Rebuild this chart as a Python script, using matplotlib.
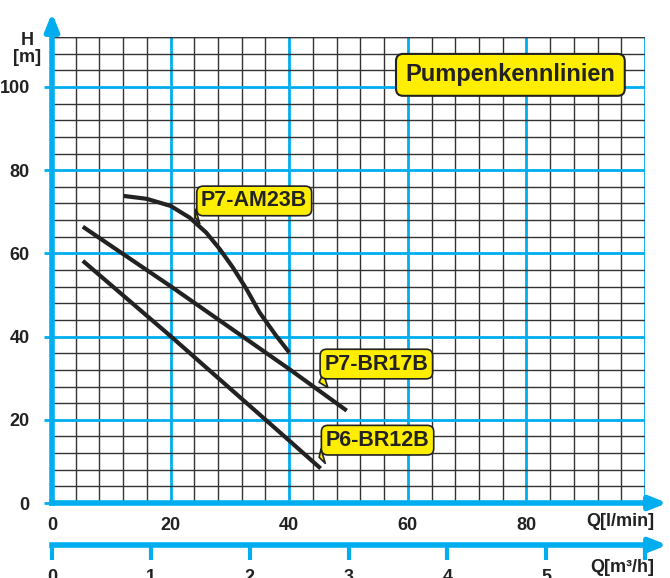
import matplotlib.pyplot as plt
from matplotlib.ticker import MultipleLocator

BLUE = '#00aeef'
YELLOW = '#ffee00'
INK = '#222222'

# pump curves (Q in l/min, H in m)
am23_q = [12.1, 16.0, 20.0, 23.2, 26.0, 28.3, 30.5, 32.8, 35.0, 37.8, 40.0]
am23_h = [73.8, 73.1, 71.4, 68.6, 65.0, 61.0, 56.6, 51.4, 45.8, 40.2, 36.2]
br17_q = [5.2, 20.0, 40.0, 49.7]
br17_h = [66.4, 52.1, 32.2, 22.2]
br12_q = [5.2, 20.0, 40.0, 45.3]
br12_h = [58.2, 40.1, 15.0, 8.3]

q_ticks = [0, 20, 40, 60, 80]
h_ticks = [0, 20, 40, 60, 80, 100]
m3h_ticks = [0, 1, 2, 3, 4, 5, 6]
m3h_labels = ['0', '1', '2', '3', '4', '5', '']

plt.rcParams['font.family'] = ['Liberation Sans', 'DejaVu Sans']
plt.rcParams['font.weight'] = 'bold'

W, H = 670, 578
fig = plt.figure(figsize=(W / 100, H / 100), dpi=100)
x0, x1, y0, y1 = 52, 645, 503, 37
ax = fig.add_axes([x0 / W, 1 - y0 / H, (x1 - x0) / W, (y0 - y1) / H])
ax.set_xlim(0, 100)
ax.set_ylim(0, 112)

# grid: black every 4, blue every 20
ax.xaxis.set_major_locator(MultipleLocator(20))
ax.yaxis.set_major_locator(MultipleLocator(20))
ax.xaxis.set_minor_locator(MultipleLocator(4))
ax.yaxis.set_minor_locator(MultipleLocator(4))
ax.grid(which='minor', color='#333333', lw=1.0)
ax.grid(which='major', color=BLUE, lw=2.0)
ax.set_axisbelow(True)
for s in ['top', 'right']:
    ax.spines[s].set_visible(False)
for s in ['left', 'bottom']:
    ax.spines[s].set_color(BLUE)
    ax.spines[s].set_linewidth(4)
ax.axhline(112, color='#333333', lw=1.0)
ax.tick_params(which='minor', length=0)
ax.tick_params(which='major', colors=BLUE, length=6, width=2)
ax.tick_params(axis='x', length=0)
ax.set_yticks(h_ticks)
ax.set_yticklabels([str(v) for v in h_ticks], color=INK, fontsize=13, fontweight='bold')
ax.set_xticks(q_ticks + [100])
ax.set_xticklabels([str(v) for v in q_ticks] + [''], color=INK, fontsize=13, fontweight='bold')
ax.tick_params(axis='x', pad=10)
ax.tick_params(axis='y', pad=10)

# axis arrows
head = '-|>,head_length=1.0,head_width=0.4'
ax.annotate('', xy=(670 / W, 1 - y0 / H), xycoords='figure fraction',
            xytext=(100, 0), textcoords='data',
            arrowprops=dict(arrowstyle=head, color=BLUE, lw=4))
ax.annotate('', xy=(x0 / W, 1 - 10 / H), xycoords='figure fraction',
            xytext=(0, 112), textcoords='data',
            arrowprops=dict(arrowstyle=head, color=BLUE, lw=4))

# curves
for q, h in [(am23_q, am23_h), (br17_q, br17_h), (br12_q, br12_h)]:
    ax.plot(q, h, color=INK, lw=3, solid_capstyle='butt')

box = dict(boxstyle='round,pad=0.2,rounding_size=0.3', fc=YELLOW, ec=INK, lw=1.2)
tail = dict(arrowstyle='wedge,tail_width=0.7,shrink_factor=0.5', fc=YELLOW, ec=INK, lw=1.2)
ax.annotate('P7-AM23B', xy=(23.7, 68.5), xytext=(34.1, 72.6), ha='center', va='center',
            fontsize=15.5, fontweight='bold', color=INK, bbox=box, arrowprops=tail)
ax.annotate('P7-BR17B', xy=(44.6, 28.8), xytext=(54.7, 33.4), ha='center', va='center',
            fontsize=15.5, fontweight='bold', color=INK, bbox=box, arrowprops=tail)
ax.annotate('P6-BR12B', xy=(44.6, 10.8), xytext=(54.9, 15.1), ha='center', va='center',
            fontsize=15.5, fontweight='bold', color=INK, bbox=box, arrowprops=tail)

ax.text(77.3, 102.9, 'Pumpenkennlinien', ha='center', va='center', fontsize=17,
        fontweight='bold', color=INK,
        bbox=dict(boxstyle='round,pad=0.4,rounding_size=0.3', fc=YELLOW, ec=INK, lw=1.5))

fig.text(27 / W, 1 - 49 / H, 'H\n[m]', ha='center', va='center', fontsize=13,
         fontweight='bold', color=INK, linespacing=0.95)
fig.text(620 / W, 1 - 522 / H, 'Q[l/min]', ha='center', va='center', fontsize=13,
         fontweight='bold', color=INK)

# second axis m3/h
ax2 = fig.add_axes([x0 / W, 1 - 545 / H, (x1 - x0) / W, 0.001])
ax2.set_xlim(0, 6)
ax2.set_yticks([])
for s in ['top', 'right', 'left']:
    ax2.spines[s].set_visible(False)
ax2.spines['bottom'].set_color(BLUE)
ax2.spines['bottom'].set_linewidth(4)
ax2.set_xticks(m3h_ticks)
ax2.set_xticklabels(m3h_labels, fontsize=13, fontweight='bold')
ax2.tick_params(axis='x', colors=BLUE, length=11, width=3, pad=6)
for lab in ax2.get_xticklabels():
    lab.set_color(INK)
ax2.annotate('', xy=(670 / W, 1 - 545 / H), xycoords='figure fraction',
             xytext=(6, 0), textcoords='data',
             arrowprops=dict(arrowstyle=head, color=BLUE, lw=4))
fig.text(622 / W, 1 - 568 / H, 'Q[m³/h]', ha='center', va='center', fontsize=13,
         fontweight='bold', color=INK)

fig.savefig('out.png', dpi=100)
